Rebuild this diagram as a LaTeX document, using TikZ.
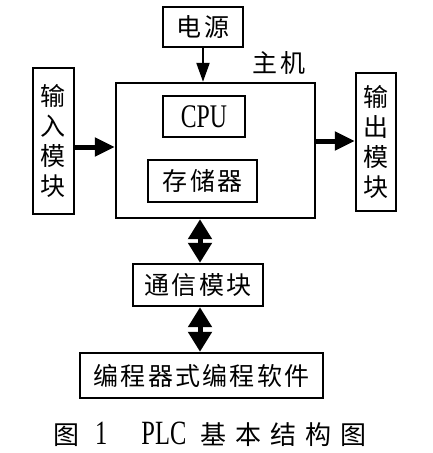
\documentclass[tikz,border=0pt]{standalone}
\usepackage{fontspec}
\newfontfamily\cjk[LetterSpace=9]{Noto Sans CJK SC}
\newfontfamily\cjkwide[LetterSpace=35]{Noto Sans CJK SC}
\newfontfamily\cond[FakeStretch=0.72]{Liberation Serif}
\usetikzlibrary{positioning, arrows.meta, calc}

\begin{document}
\begin{tikzpicture}[x=1pt, y=-1pt,
    % ── node styles ─────────────────────────────────────────
    block/.style = { draw, line width=2.4pt, inner sep=0pt, align=center,
            font=\fontsize{25}{30}\selectfont\cjk, },
    label/.style = { inner sep=0pt, font=\fontsize{25}{30}\selectfont\cjk, },
    flow/.style = {line width=5pt, -{Triangle[length=20pt, width=18pt]}},
    feed/.style = {line width=2.2pt, -{Triangle[length=19pt, width=13pt]}},
    link/.style = {line width=5pt,
            {Triangle[length=20pt, width=23pt]}-{Triangle[length=20pt, width=23pt]}},
    ]
    \useasboundingbox (0,0) rectangle (432,453);

    % ============================================================
    % TOP — power supply and host
    % ============================================================
    \node[block, minimum width=80pt, minimum height=40pt]
    (power) at (203,27) {电源};

    \node[block, minimum width=199pt, minimum height=135pt]
    (host) at (215.5,150.5) {};
    \node[label] (host-label) at (279,63) {主机};

    \node[block, minimum width=82pt, minimum height=41pt,
        font=\fontsize{33}{33}\selectfont\cond]
    (cpu) at (204,116.5) {CPU};
    \node[block, minimum width=109pt, minimum height=42pt]
    (memory) at (202.5,181) {存储器};

    % ============================================================
    % SIDES — input and output modules
    % ============================================================
    \node[block, minimum width=41pt, minimum height=146pt]
    (input) at (53.5,141) {输\\入\\模\\块};
    \node[block, minimum width=40pt, minimum height=138pt]
    (output) at (376,142) {输\\出\\模\\块};

    % ============================================================
    % BOTTOM — communication and programming
    % ============================================================
    \node[block, minimum width=130pt, minimum height=42pt]
    (comm) at (198,285) {通信模块};
    \node[block, minimum width=243pt, minimum height=45pt]
    (prog) at (201.5,375.5) {编程器式编程软件};

    % ============================================================
    % CONNECTORS
    % ============================================================
    \draw[feed] (power.south) -- (power.south |- host.north);
    \draw[flow] ([yshift=-6pt]input.east) -- ([yshift=-6pt]input.east -| host.west);
    \draw[flow] ([yshift=1pt]output.west -| host.east) -- ([yshift=1pt]output.west);
    \draw[link] ([xshift=2pt]comm.north |- host.south) -- ([xshift=2pt]comm.north);
    \draw[link] ([xshift=2pt]comm.south) -- ([xshift=2pt]comm.south |- prog.north);

    % ============================================================
    % CAPTION
    % ============================================================
    \node[inner sep=0pt, font=\fontsize{26}{30}\selectfont] (caption) at (210,434)
    {{\cjk 图}\hspace{16pt}{\fontsize{34}{34}\selectfont\cond 1}\hspace{34pt}%
        {\fontsize{34}{34}\selectfont\cond PLC}\hspace{14pt}{\cjkwide 基本结构图}};

\end{tikzpicture}
\end{document}
